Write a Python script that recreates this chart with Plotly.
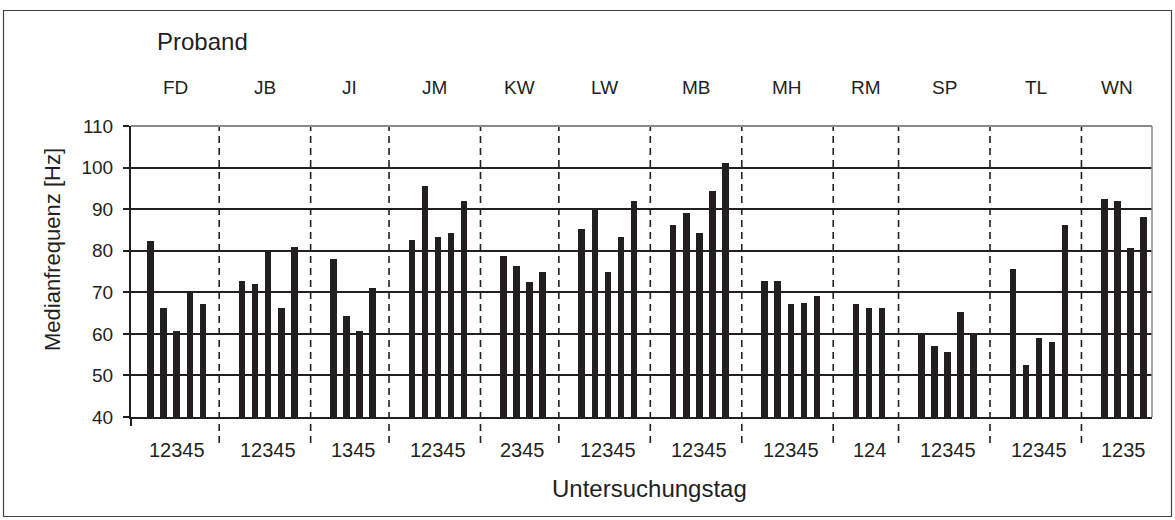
import plotly.graph_objects as go

# ---------------- data ----------------
probanden = ["FD", "JB", "JI", "JM", "KW", "LW", "MB", "MH", "RM", "SP", "TL", "WN"]
tage = [
    [1, 2, 3, 4, 5],   # FD
    [1, 2, 3, 4, 5],   # JB
    [1, 3, 4, 5],      # JI
    [1, 2, 3, 4, 5],   # JM
    [2, 3, 4, 5],      # KW
    [1, 2, 3, 4, 5],   # LW
    [1, 2, 3, 4, 5],   # MB
    [1, 2, 3, 4, 5],   # MH
    [1, 2, 4],         # RM
    [1, 2, 3, 4, 5],   # SP
    [1, 2, 3, 4, 5],   # TL
    [1, 2, 3, 5],      # WN
]
medianfrequenz = [
    [82.4, 66.2, 60.6, 69.9, 67.3],   # FD
    [72.8, 72.0, 79.8, 66.2, 81.0],   # JB
    [78.1, 64.3, 60.6, 71.0],         # JI
    [82.5, 95.6, 83.4, 84.3, 91.9],   # JM
    [78.7, 76.3, 72.4, 74.8],         # KW
    [85.3, 89.9, 74.8, 83.4, 91.9],   # LW
    [86.2, 89.0, 84.3, 94.3, 101.0],  # MB
    [72.8, 72.8, 67.2, 67.5, 69.1],   # MH
    [67.1, 66.3, 66.3],               # RM
    [59.9, 57.2, 55.7, 65.3, 59.9],   # SP
    [75.6, 52.4, 59.0, 58.1, 86.2],   # TL
    [92.5, 92.0, 80.7, 88.2],         # WN
]
y_ticks = [40, 50, 60, 70, 80, 90, 100, 110]

# ---------------- styling ----------------
INK = "#231f20"
FONT = "Liberation Sans, Arial, Helvetica, sans-serif"
W, H = 1175, 520
ML, MR, MT, MB_ = 131, 23, 126, 103
PW, PH = W - ML - MR, H - MT - MB_
XMIN, XMAX = -0.5, 77.65

def px_x(p):   # pixel -> paper x
    return (p - ML) / PW

def px_y(p):   # pixel -> paper y
    return (H - MB_ - p) / PH

# slot layout: blank slot before and after each group of bars
xs, ys, group_bar_pos, seps = [], [], [], []
pos = 0
for g, vals in enumerate(medianfrequenz):
    pos += 1
    bp = []
    for v in vals:
        xs.append(pos)
        ys.append(v)
        bp.append(pos)
        pos += 1
    group_bar_pos.append(bp)
    if g < len(medianfrequenz) - 1:
        seps.append(bp[-1] + 1.25)
    pos += 1

fig = go.Figure()
fig.add_trace(go.Bar(x=xs, y=ys, width=0.5, marker=dict(color=INK, line=dict(width=0)),
                     hoverinfo="y", showlegend=False))

shapes = []
def to_paper(xv):
    return (xv - XMIN) / (XMAX - XMIN)

for s in seps:
    shapes.append(dict(type="line", xref="paper", yref="paper",
                       x0=to_paper(s), x1=to_paper(s), y0=px_y(443), y1=1,
                       line=dict(color=INK, width=1.6, dash="7px,5px"), layer="above"))
# plot frame top / right (grey)
shapes.append(dict(type="line", xref="paper", yref="paper", x0=0, x1=1, y0=1, y1=1,
                   line=dict(color="#8a8a8a", width=2), layer="above"))
shapes.append(dict(type="line", xref="paper", yref="paper", x0=1, x1=1, y0=0, y1=1,
                   line=dict(color="#8a8a8a", width=1.5), layer="above"))
# outer frame
shapes.append(dict(type="rect", xref="paper", yref="paper",
                   x0=px_x(3.5), x1=px_x(1171.5), y0=px_y(516.5), y1=px_y(10.5),
                   line=dict(color="#444444", width=1.2), fillcolor="rgba(0,0,0,0)", layer="below"))

annotations = []
# group labels on top, centred between separators
bounds = [XMIN] + seps + [XMAX]
for i, name in enumerate(probanden):
    c = (bounds[i] + bounds[i + 1]) / 2
    annotations.append(dict(x=to_paper(c), y=1, xref="paper", yref="paper", yshift=39,
                            text=name, showarrow=False, xanchor="center", yanchor="middle",
                            font=dict(family=FONT, size=19, color=INK)))
# day labels below axis, centred under bars
for i, d in enumerate(tage):
    bp = group_bar_pos[i]
    c = (bp[0] + bp[-1]) / 2
    annotations.append(dict(x=to_paper(c), y=0, xref="paper", yref="paper", yshift=-33,
                            text="".join(str(t) for t in d), showarrow=False,
                            xanchor="center", yanchor="middle",
                            font=dict(family=FONT, size=20, color=INK)))
annotations.append(dict(x=px_x(155), y=1, xref="paper", yref="paper", yshift=85,
                        text="Proband", showarrow=False, xanchor="left", yanchor="middle",
                        font=dict(family=FONT, size=24, color=INK)))
annotations.append(dict(x=px_x(649), y=0, xref="paper", yref="paper", yshift=-71,
                        text="Untersuchungstag", showarrow=False, xanchor="center", yanchor="middle",
                        font=dict(family=FONT, size=24, color=INK)))
annotations.append(dict(x=px_x(52), y=px_y(250), xref="paper", yref="paper",
                        text="Medianfrequenz [Hz]", showarrow=False, textangle=-90,
                        xanchor="center", yanchor="middle",
                        font=dict(family=FONT, size=22, color=INK)))

fig.update_layout(
    width=W, height=H, autosize=False,
    margin=dict(l=ML, r=MR, t=MT, b=MB_, pad=0),
    paper_bgcolor="white", plot_bgcolor="white",
    bargap=0,
    shapes=shapes, annotations=annotations,
    xaxis=dict(range=[XMIN, XMAX], showgrid=False, zeroline=False,
               showline=True, linecolor=INK, linewidth=2,
               tickmode="array", tickvals=[XMIN], ticktext=[""], ticks="outside",
               ticklen=7, tickwidth=2, tickcolor=INK, showticklabels=False),
    yaxis=dict(range=[40, 110], tickmode="array", tickvals=y_ticks,
               showgrid=True, gridcolor=INK, gridwidth=1.5, zeroline=False,
               showline=True, linecolor=INK, linewidth=2,
               ticks="outside", ticklen=6, tickwidth=1.5, tickcolor=INK,
               ticklabelstandoff=6,
               tickfont=dict(family=FONT, size=19, color=INK)),
)

fig.write_html("out.html", config={"displayModeBar": False},
               post_script="document.body.style.margin='0';document.body.style.overflow='hidden';")
